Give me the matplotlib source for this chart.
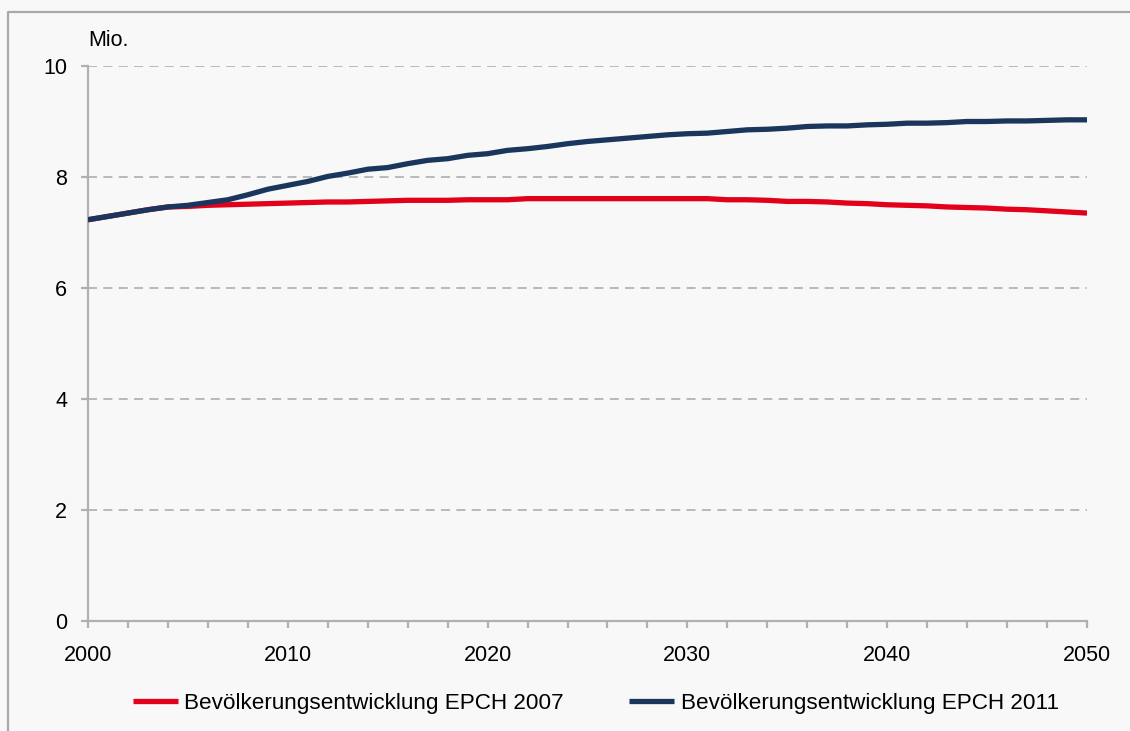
import matplotlib
matplotlib.use("Agg")
import matplotlib.pyplot as plt
from matplotlib.lines import Line2D

years = list(range(2000, 2051))
epch_2007 = [7.23, 7.29, 7.35, 7.41, 7.46, 7.47, 7.49, 7.50, 7.51, 7.52,
             7.53, 7.54, 7.55, 7.55, 7.56, 7.57, 7.58, 7.58, 7.58, 7.59,
             7.59, 7.59, 7.61, 7.61, 7.61, 7.61, 7.61, 7.61, 7.61, 7.61,
             7.61, 7.61, 7.59, 7.59, 7.58, 7.56, 7.56, 7.55, 7.53, 7.52,
             7.50, 7.49, 7.48, 7.46, 7.45, 7.44, 7.42, 7.41, 7.39, 7.37,
             7.35]
epch_2011 = [7.23, 7.29, 7.35, 7.41, 7.46, 7.49, 7.54, 7.59, 7.68, 7.78,
             7.85, 7.92, 8.01, 8.07, 8.14, 8.17, 8.24, 8.30, 8.33, 8.39,
             8.42, 8.48, 8.51, 8.55, 8.60, 8.64, 8.67, 8.70, 8.73, 8.76,
             8.78, 8.79, 8.82, 8.85, 8.86, 8.88, 8.91, 8.92, 8.92, 8.94,
             8.95, 8.97, 8.97, 8.98, 9.00, 9.00, 9.01, 9.01, 9.02, 9.03,
             9.03]
series_labels = ["Bevölkerungsentwicklung EPCH 2007",
                 "Bevölkerungsentwicklung EPCH 2011"]
x_ticks = list(range(2000, 2051, 2))
x_tick_labels = [str(y) if y % 10 == 0 else "" for y in x_ticks]
y_ticks = [0, 2, 4, 6, 8, 10]
y_unit = "Mio."

plt.rcParams['font.family'] = ['Liberation Sans', 'DejaVu Sans']
W, H = 1130, 731
bg = "#f8f8f8"
fig = plt.figure(figsize=(W / 100, H / 100), dpi=100, facecolor=bg)
ax = fig.add_axes([88 / W, 1 - 621 / H, (1087 - 88) / W, (621 - 66) / H])
ax.set_facecolor(bg)

red = "#E2001A"
navy = "#1B365D"
ax.plot(years, epch_2007, color=red, lw=3.8, solid_capstyle="butt", label=series_labels[0], zorder=3)
ax.plot(years, epch_2011, color=navy, lw=3.8, solid_capstyle="butt", label=series_labels[1], zorder=4)

ax.set_xlim(2000, 2050)
ax.set_ylim(0, 10)
ax.set_xticks(x_ticks)
ax.set_xticklabels(x_tick_labels)
ax.set_yticks(y_ticks)
ax.set_yticklabels([str(v) for v in y_ticks])

for v in y_ticks[1:]:
    ax.axhline(v, color="#b4b4b4", lw=1.3, ls=(0, (5, 3.5)), zorder=1)

for s in ["top", "right"]:
    ax.spines[s].set_visible(False)
for s in ["left", "bottom"]:
    ax.spines[s].set_color("#b0b0b0")
    ax.spines[s].set_linewidth(1.6)
ax.tick_params(axis="both", colors="#b0b0b0", width=1.6, length=5, labelsize=15.5, labelcolor="black")
ax.tick_params(axis="x", pad=12)
ax.tick_params(axis="y", pad=10)

fig.text(88 / W, 1 - 40 / H, y_unit, fontsize=15.5, va="center", ha="left")

leg = fig.legend(loc="center", bbox_to_anchor=(596 / W, 1 - 703 / H), ncol=2, frameon=False,
                 fontsize=16.2, handlelength=2.0, handletextpad=0.3, columnspacing=2.9)

# outer border (left and top visible)
fig.add_artist(Line2D([8 / W, 8 / W, 1.0], [0.0, 1 - 12 / H, 1 - 12 / H], transform=fig.transFigure,
                      color="#a8a8a8", lw=1.6))

fig.savefig("out.png", dpi=100, facecolor=bg)
